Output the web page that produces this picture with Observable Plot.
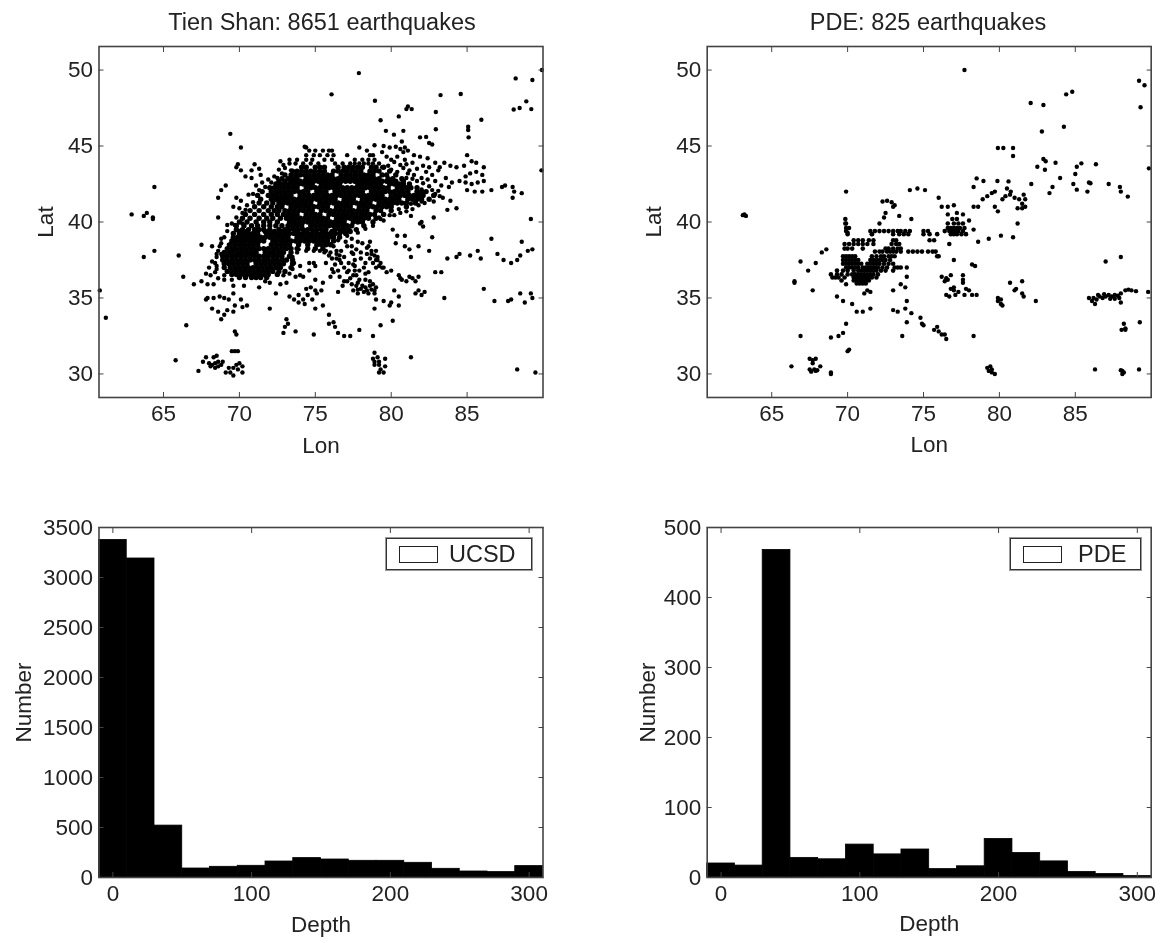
<!DOCTYPE html>
<html>
<head>
<meta charset="utf-8">
<script src="https://cdn.jsdelivr.net/npm/d3@7"></script>
<script src="https://cdn.jsdelivr.net/npm/@observablehq/plot@0.6"></script>
<style>
html,body{margin:0;padding:0;background:#fff;}
#page{position:relative;width:1161px;height:943px;overflow:hidden;font-family:"Liberation Sans",Arial,sans-serif;color:#222;filter:blur(0.7px);}
.panel{position:absolute;}
.panel svg{overflow:visible;}
.title{position:absolute;font-size:23.5px;text-align:center;white-space:nowrap;}
.legend{position:absolute;border:1px solid #333;outline:1px solid #999;background:#fff;height:32px;box-sizing:border-box;}
.legend i{position:absolute;left:12px;top:7px;width:39px;height:17px;border:1.5px solid #222;box-sizing:border-box;}
.legend span{position:absolute;top:2px;font-size:23.5px;}
</style>
</head>
<body>
<div id="page"></div>
<script>
const lonTicks = [65,70,75,80,85];
const latTicks = [30,35,40,45,50];
const depthTicks = [0,100,200,300];
const ucsdTicks = [0,500,1000,1500,2000,2500,3000,3500];
const pdeTicks = [0,100,200,300,400,500];
const depthBins = [0,20,40,60,80,100,120,140,160,180,200,220,240,260,280,300];
const ucsdCounts = [3376,3190,519,90,107,117,160,194,180,167,167,147,87,60,54,114];
const pdeCounts = [20,17,468,28,26,47,33,40,12,16,55,35,23,8,5,2];

const tienShanCore = [
[43.6,[74.1,74.4,75,75.3,75.6,76.5,76.9,77.2,77.5,77.8,78.1,78.7,79,79.5]],
[43.35,[73.5,73.8,74.1,74.4,74.7,75,75.3,75.6,76.2,76.5,76.8,77.1,77.4,77.7,78,78.6,78.9,79.2,79.9]],
[43.1,[73,73.4,73.7,74,74.3,74.6,74.9,75.2,75.5,75.8,76.1,76.7,77,77.3,77.6,77.9,78.2,78.5,78.8,79.4,79.7,80.3]],
[42.85,[72.8,73.2,73.5,73.8,74.4,74.7,75,75.3,75.6,75.9,76.2,76.5,76.8,77.1,77.4,77.7,78,78.3,78.6,78.9,79.2,79.8,80.1,80.7]],
[42.68,[72.6,73,73.4,73.7,74,74.3,74.6,74.9,75.2,75.5,75.8,76.1,76.4,76.7,77,77.3,77.6,77.9,78.2,78.5,78.8,79.1,79.4,79.7,80,80.3,80.8]],
[42.5,[72.4,72.7,73,73.3,73.6,73.9,74.2,74.5,74.8,75.4,75.7,76,76.3,76.6,77.8,78.1,78.4,78.7,79,79.3,79.9,80.2,80.5,80.8,81.2]],
[42.25,[72,72.3,72.6,72.9,73.2,73.5,73.8,74.4,74.7,75,75.3,75.6,75.9,76.2,76.5,76.8,77.1,77.4,77.7,78,78.3,78.6,78.9,79.2,79.5,79.8,80.4,80.7,81,81.3,81.7]],
[42,[71.5,72.1,72.4,72.7,73,73.3,73.6,73.9,74.2,74.5,75.1,75.4,75.7,76.3,76.6,76.9,77.2,77.5,77.8,78.1,78.7,79,79.3,79.6,79.9,80.2,80.5,80.8,81.1,81.7,82,82.3]],
[41.75,[71.2,71.9,72.2,72.5,72.8,73.1,73.4,74,74.3,74.6,74.9,75.2,75.5,75.8,76.1,76.4,76.7,77,77.3,77.6,77.9,78.2,78.5,78.8,79.1,79.4,80,80.3,80.6,80.9,81.2,81.5,81.8,82.1,82.8]],
[41.5,[71.4,72.1,72.4,72.7,73,73.3,73.6,73.9,74.2,74.5,74.8,75.1,75.4,75.7,76,76.3,76.9,77.2,77.5,78.1,78.4,78.7,79,79.3,79.6,79.9,80.2,80.5,81.1,81.4,81.7,82,82.5]],
[41.25,[71.3,71.8,72.2,72.6,72.9,73.2,73.5,73.8,74.1,74.4,74.7,75.3,75.6,75.9,76.2,76.5,76.8,77.1,77.4,77.7,78,78.3,78.6,79.2,79.5,79.8,80.1,80.4,80.7,81,81.6]],
[41,[71,71.6,72.1,72.5,72.8,73.4,73.7,74,74.3,74.6,74.9,75.2,75.5,75.8,76.4,76.7,77,77.3,77.9,78.2,78.5,78.8,79.1,79.4,79.7,80,81]],
[40.75,[70.7,71.3,71.9,72.3,72.6,73,73.3,73.6,73.9,74.2,74.5,74.8,75.4,75.7,76,76.3,76.6,76.9,77.2,77.5,77.8,78.1,78.4,79,79.3,80]],
[40.5,[70.4,71,71.6,72.1,72.5,72.9,73.2,73.5,73.8,74.4,74.7,75,75.3,75.9,76.2,76.5,76.8,77.1,77.4,77.7,78,78.3,78.6,78.9,79.5]],
[40.25,[70.2,70.7,71.3,71.8,72.2,72.7,73.1,73.4,73.7,74,74.3,74.6,74.9,75.2,75.5,75.8,76.4,76.7,77,77.3,77.6,77.9,78.2,78.5,79]],
[40,[70,70.5,71.1,71.6,72,72.5,73.3,73.6,73.9,74.2,74.5,74.8,75.1,75.4,75.7,76,76.3,76.6,76.9,77.5,77.8,78.1,78.8]],
[39.75,[69.8,70.3,70.8,71.2,71.6,72,72.4,72.8,73.2,73.5,73.8,74.1,74.7,75,75.3,75.6,75.9,76.2,76.5,76.8,77.1,77.4,78.2]],
[39.5,[69.8,70.2,70.6,71,71.3,71.6,72,72.6,73,73.3,73.6,73.9,74.2,74.5,74.8,75.1,75.4,75.7,76.3,76.6,76.9,77.2,77.7]],
[39.37,[70,70.5,71.1,71.7,72.3,72.8,73.2,73.8,74.4,75,75.6,76.1,76.7,77.3]],
[39.25,[69.6,70,70.3,70.6,70.9,71.2,71.8,72.1,72.4,72.7,73,73.3,73.6,73.9,74.2,74.5,74.8,75.1,75.4,75.7,76,76.3,76.6,77]],
[39,[69.6,69.9,70.2,70.5,70.8,71.1,71.4,71.7,72,72.3,72.6,72.9,73.2,73.8,74.1,74.4,74.7,75,75.3,75.6,75.9,76.2,76.6]],
[38.75,[69.5,69.8,70.1,70.4,70.7,71,71.3,71.6,72.2,72.5,72.8,73.1,73.4,73.7,74,74.3,74.6,74.9,75.2,75.5,75.8,76.2]],
[38.5,[69.4,69.7,70,70.3,70.6,70.9,71.2,72.1,72.4,72.7,73,73.3,73.9,74.5,75.1,75.4,75.7,76]],
[38.25,[69.2,69.5,69.8,70.1,70.4,70.7,71,71.3,71.6,71.9,72.2,72.5,72.8,73.1,73.4,73.8,74.5,75,75.5]],
[38,[69,69.3,69.6,69.9,70.2,70.5,70.8,71.1,71.7,72,72.3,72.6,72.9,73.4]],
[37.75,[68.9,69.2,69.5,69.8,70.1,70.4,70.7,71,71.3,71.6,71.9,72.2,72.5,72.8,73.3]],
[37.5,[68.9,69.2,69.5,69.8,70.1,70.4,70.7,71,71.3,71.6,71.9,72.2,72.5,72.8,73.1,73.5]],
[37.25,[69,69.3,69.6,69.9,70.2,70.5,71.1,71.4,71.7,72,72.3,72.6,72.9,73.5]],
[37,[69,69.4,69.7,70,70.3,70.6,70.9,71.2,71.5,71.8,72.1,72.4,72.7,73.4]],
[36.75,[69.2,69.5,69.8,70.1,70.4,70.7,71,71.3,71.6,71.9,72.2,72.6,73]],
[36.55,[69.5,69.8,70.1,70.4,70.7,71,71.3,71.6,71.9,72.5]],
[36.35,[70,70.4,70.8,71.1,71.4,71.8]]
];
const tienShanScatter = [
[74.6,44.7],[75,44.7],[75.5,44.7],[75.9,44.7],[76.1,44.7],[74.4,44.4],[74.9,44.4],[75.3,44.4],[75.8,44.4],[76.2,44.4],[77.1,44.4],[78.6,44.4],
[73.3,44.1],[73.8,44.1],[74.4,44.1],[74.8,44.1],[75.6,44.1],[76.1,44.1],[77.6,44.1],[78.1,44.1],[78.5,44.1],[78.9,44.1],
[73.3,43.85],[73.7,43.85],[74.2,43.85],[74.7,43.85],[75.2,43.85],[76.3,43.85],[76.8,43.85],[77.3,43.85],[77.6,43.85],[77.9,43.85],[78.2,43.85],[78.5,43.85],[78.8,43.85],[79.2,43.85],
[73,43.55],[73.4,43.4],[72.8,43.2],[72.5,42.9],[72.1,42.6],[71.7,42.3],[71.3,42.1],[70.9,41.85],[72.9,43.75],[79.4,43.6],[79.8,43.7],
[72.3,43],[71.9,42.8],[71.5,42.6],[71.1,42.4],[72.6,43.45],[70.9,41.3],[70.5,41.1],[70.2,40.6],[69.8,40.3],[69.5,39.9],[69.2,39.4],[69,39],[68.8,38.6],[68.5,37.9],[68.4,37.3],[68.5,36.9],[69,36.5],[69.5,36.2],[72.9,36.5],[73.5,37.7],[73.9,38.2],[74.4,38.1],[74.9,38.1],[76.5,38.8],[77.1,39.1],[77.8,39.3],[78.3,39.55],[78.8,39.75],[79.3,40.2],[79.9,40.45],[80.5,40.85],[81.3,41.2],[82,41.35],[82.9,41.85],
[88.2,49.45],[89.3,49.35],[89.93,50],[88.9,47.94],[88.07,47.4],[88.46,47.5],[89.23,47.43],[77.87,49.8],[76.07,48.4],[78.93,47.98],
[83.25,48.35],[84.58,48.42],[85.94,46.73],[79.3,46.7],[80.5,46.95],[81,47.43],[81.35,47.43],[81.1,47.6],[82.94,47.24],[82.94,46.1],
[85.07,46.27],[85.07,46.05],[85.1,45.57],[79.65,46],[80.18,45.75],[80.8,46],[81.9,45.57],[82.3,45.6],[82.5,45.2],[82.7,45.1],
[69.4,45.8],[70.1,44.9],[74.3,44.95],[74.4,44.9],[78.9,45.05],[79.5,45],[79.9,44.9],[80.3,44.95],[80.6,44.8],[80.9,44.9],[81.1,44.7],[80.7,45.3],[80.8,44.6],
[85,44.4],[81.5,44.4],[81.9,44.3],[82.4,44.2],[79.4,44.6],[79.7,44.3],[80,44.1],[80.4,44.3],[80.9,44.1],[78.4,44.7],[78.8,44.4],[77.9,44.9],
[82.1,43.7],[82.5,43.6],[82.9,43.9],[83.2,43.6],[83.5,43.9],[83.9,43.7],[84.3,43.6],[84.8,43.7],[85.3,44],[85.6,43.9],[86.1,43.6],[82.3,43.3],[82.7,43.1],[83.1,43.4],
[81.7,43.5],[81.2,43.4],[81.5,43.1],[82,42.9],[82.4,42.8],[82.9,42.7],[83.6,42.9],[84,42.6],[84.5,42.7],[84.9,43],[85.2,43.2],[85.6,43.3],[86,43.1],[86.1,42.7],[85.7,42.6],[85.3,42.5],[84.9,42.6],
[83.3,42.4],[83.8,42.3],[85,42.1],[85.5,42],[86,42],[86.6,42.1],[88,42.3],[87.5,42.4],[87.3,42.3],[88.1,42],[88.6,41.9],[88,41.6],[89.9,43.4],[89.2,40.2],
[80.2,43.95],[80.6,43.75],[81,43.8],[81.4,43.9],[80,43.45],[80.4,43.3],[80.8,43.55],[81.1,43.2],[81.4,42.85],[81,42.9],[81.7,42.7],[82.1,42.55],[82.5,42.35],[82,42.15],[82.7,42.1],[83.1,42.05],[82.2,41.95],[83.2,41.7],[82.8,41.35],[82.2,41.25],[81.8,41.1],[81.4,40.85],[80.6,40.6],[80.2,40.45],[79.5,40.1],
[83.4,41.6],[83.9,41.4],[83.7,40.8],[84.3,40.9],[82.8,40.3],[69.8,41.6],[70.1,41.4],[70.6,41.8],[69.1,42.4],[68.8,42.1],[68.6,41.6],[70.4,43],[70.1,43.4],
[71.3,43.5],[71.4,43.1],[70.8,43.4],[70.8,42.9],[71,43.8],[69.8,43.6],[69.9,43.8],[72.7,44],[68.6,40.3],[69.6,41],[70,40.9],[70.4,40.8],[69.2,39.8],[69.7,39.8],[70.2,39.9],[68.8,38.9],
[68.7,38.4],[69.3,38.5],[69.5,38.1],[67.5,38.5],[64.4,42.3],[62.9,40.5],[63.7,40.4],[63.9,40.6],[64.3,40.3],[64.3,40.2],[66,37.8],[63.7,37.7],[64.4,38.1],[60.8,35.5],[61.2,33.7],
[66.3,36.4],[67,35.9],[67.5,36.1],[67.9,35.9],[68.1,36.5],[68.3,35.9],[68.5,37.1],[69,36.2],[69.6,35.8],[70.3,35.8],[71.3,35.7],[72,36],[72.7,35.9],[73.1,36],[68.2,37.4],[68,37],[68.4,36.7],[68.6,36.3],[67.8,36.6],[68.8,37.9],[68.6,38.1],[68.5,37.7],[68.2,38.4],
[73.3,36.6],[73.7,36.4],[74,36.5],[74.2,36.4],[73.5,36.9],[74,37.1],[73.6,37.3],[75,37.1],[67.9,35],[68.3,35],[68.7,35.1],[69,35],[69.3,34.9],[67.8,34.9],[68.2,34.3],[68.6,34.1],[69.2,34.2],[69,33.9],
[68.8,33.6],[69.6,35.3],[70.1,34.9],[70.2,34.4],[70.5,34.5],[69.7,34.5],[69.6,34.1],[69.7,32.8],[69.8,32.6],[72,34.3],[73.3,35.1],[73.6,34.9],[73.9,35.2],[74.2,34.9],[74.5,35.2],[74.8,34.9],[73.9,34.7],[74.3,34.6],[75,34.3],[75.1,35.3],
[75.5,34.5],[75.9,33.9],[73.1,33.6],[73.2,33.3],[73,33.1],[72.9,32.7],[73.7,32.8],[74.9,32.6],[75.9,33.3],[76.2,33.4],[76.3,33.1],[76.5,32.7],[76.9,32.5],[77.3,32.5],[77.9,32.9],[78.8,32.5],[79.3,33.2],[80.1,33.5],
[66.5,33.2],[65.8,30.9],[74.4,35.6],[74.7,35.7],[75,35.5],[75.4,35.5],[75.5,36],[76,36.4],[76.2,36.7],[76.6,36.4],[76.9,36.1],[76.8,35.8],[76.5,35.4],[77.2,36.8],[77.5,36.5],[77.1,36.1],[76.6,37.5],[76.4,37.9],[76.9,37.7],[77.2,37.3],
[76.7,38.1],[77.1,38.4],[77.4,38],[77.7,38.2],[78,37.6],[77.6,37.1],[77.9,36.8],[78.3,37.3],[77.9,36.2],[78.3,36.6],[78.6,36.1],[77.7,35.8],[78,35.6],[78.3,35.7],[78.6,35.8],[78.9,35.5],[77.8,35.3],[78.2,35.4],[78.5,35.3],[78.9,35.3],[79,35.7],
[76.2,38.4],[76.4,38.1],[76.6,37.8],[76.7,37.3],[76.9,37],[77.1,36.7],[76.3,37.2],[76.1,36.9],[76.5,36.8],[77.4,38.4],[77.5,37.9],[77.6,37.5],[77.5,37.2],[77.6,36.8],[77.7,36.5],[77.8,36],[77.3,36.3],[77.4,35.9],[77.5,35.5],[77.8,35.55],[78.1,35.8],[78.4,35.5],[78.7,35.55],[78.8,35.9],
[78.5,38.4],[78.7,38.1],[78.9,37.8],[79.1,37.5],[79.3,37.3],[79.5,37],[78.1,38.6],[78.4,37.9],[78.6,37.6],[78.8,37.3],[79,37],[78,38],[78.2,37],[78.5,36.7],[78.3,36.2],[76.4,37.6],[75.9,37.8],[76.1,37.6],[75.7,37.3],[77,38.7],[77.4,38.9],[77.8,38.7],
[78.4,38.3],[78.7,37.9],[79,37.5],[79.2,37.1],[79.4,37],[79.7,36.7],[79,38.1],[78.6,38.7],[79.1,37.7],[80,36.8],[80.5,36.5],[80.7,36.2],[81,36.1],[81.4,36.3],[81.6,36.1],[81.8,36.4],[81.2,36.4],[80.6,36.3],[81.8,35.5],[81.6,35.3],[82,35.2],
[80.2,35.5],[82.2,35.4],[81.3,37.7],[83.7,37.6],[85.2,37.8],[85.9,37.6],[86.6,38.9],[87,37.9],[87.4,37.5],[87.9,37.3],[88.3,37.5],[88.6,38.7],[89,38.1],[89.3,38.2],[88.5,37.8],[84.5,37.9],[82.9,36.7],[83.3,36.7],
[80,34.7],[80.5,34.5],[79.5,34.8],[79.9,34.5],[79,34.9],[78.9,34.3],[80.5,35.1],[84.3,37.7],[85.7,38.1],[87.7,34.8],[88.8,34.7],[89.2,35.3],[89.3,35],[79.2,40.3],[80.3,38.6],[80.9,38.4],[81.2,38.2],[81.8,38.4],[81.9,39.9],[82.5,38.1],[82.7,39],
[67.8,31.1],[68.3,31.1],[68.5,31.2],[69.5,31.5],[69.7,31.5],[69.9,31.5],[67.6,30.8],[68,30.7],[68.2,30.6],[68.4,30.7],[68.6,30.8],[68.9,30.8],[68.1,30.5],[68.4,30.4],[68.6,30.5],[68.8,30.6],[67.3,30.2],[69.1,30.1],[69.4,30.1],[69.6,30.4],[69.8,30.6],[70,30.7],[70.2,30.5],[69.3,30.4],[69.9,30.3],[70.2,30.1],[69.6,29.9],
[78.9,31.4],[79.1,31.1],[78.8,31],[79.2,30.8],[78.9,30.6],[79.2,30.6],[79.3,30.3],[79.5,30.1],[79.2,30.1],[79.6,30.5],[78.9,30.8],[79.6,31],[81.3,31.1],[83.5,35],[88.3,30.3],[89.5,30.1],[86.8,34.8],[87.9,34.9],[88.5,35.3],[86.1,35.6],
[74.9,37.3],[75.7,38.1],[75.3,38.1],[75.6,38],[76,38],[73.8,38],[74.6,37.3],[72.4,35.3],[71.7,36.1],[74.6,36.8],[75,36.2],[81,40.7],[81.3,40.4],[82,40],[82.1,39.7],[80.9,39.1],[80.4,39.1],[80.1,39.5]
];
const pdeCore = [
[40.2,[69.85,76.9,77.2]],
[39.9,[69.85,76.6,77,77.3,77.6]],
[39.6,[69.9,76.6,76.8,77,77.2,77.4,77.7]],
[39.4,[69.9,71.5,71.8,72.1,72.4,72.7,73,73.3,73.5,73.8,74.1,75,75.3,76.4,76.7,76.9,77.1,77.3,77.6]],
[39.2,[70,71.6,73,73.4,73.7,74,75,75.4,75.9,76.8,77,77.2,77.5,77.8]],
[38.8,[70.4,70.7,71,71.4,71.7,73,73.2,75.4,75.7]],
[38.55,[69.8,70.1,70.4,70.7,71,71.3,71.7,72.9,73.2,73.4,76.7]],
[38.25,[69.8,70,70.3,71,72.5,72.7,73,73.3,73.5]],
[38.05,[71.8,72.1,72.3,72.6,72.8,73,73.2,73.5,74,74.3,74.6,74.9,75.3,75.6,75.8]],
[37.75,[69.7,69.9,70.1,70.3,70.5,71.6,71.9,72.2,72.4,72.7,72.9,73.1,75.9,76]],
[37.5,[69.7,69.9,70.1,70.3,70.5,70.7,71.5,71.7,71.9,72.1,72.3,72.5,72.8]],
[37.25,[69.7,69.9,70.1,70.3,70.5,70.7,70.9,71.3,71.5,71.7,71.9,72.1,72.4,72.7,73]],
[37,[69.9,70.1,70.3,70.5,70.7,71,71.2,71.4,71.6,71.8,72,72.3,72.6,73.1,73.3,73.5]],
[36.8,[69.3,69.7,70,70.4,70.7,70.9,71.1,71.3,71.5,71.7,71.9,72.2,72.5,73]],
[36.55,[68.9,69.3,69.6,70,70.3,70.5,70.7,70.9,71.1,71.3,71.5,71.7,72]],
[36.35,[69,69.2,69.4,69.8,70.4,70.6,70.8,71,71.2,71.4,71.6,71.9]],
[36.15,[69.6,70.4,70.6,70.8,71,71.2,71.4]],
[35.95,[70.6,70.8,71,71.2]]
];
const pdeScatter = [
[77.7,50],[89.2,49.3],[89.56,49],[89.3,47.55],[84.8,48.57],[84.4,48.4],[82.06,47.83],[82.9,47.7],[82.8,45.96],[84.25,46.27],[79.9,44.87],[80.26,44.87],[80.9,44.87],[80.9,44.34],[89.85,43.53],
[82.9,44.15],[83.05,44],[82.5,43.64],[83,43.44],[83.7,43.9],[84,42.9],[85.1,43.64],[85.4,43.86],[86.36,43.8],[85,43.16],[84.87,42.5],[85.1,42.13],[85.9,42.6],[86,42.55],[85.8,42],[87.2,42.5],[87.94,42.3],[88,42],[88.46,41.67],
[83.5,42.3],[83.3,41.9],[82.1,42.5],[78.5,42.87],[78.95,42.7],[79.87,42.7],[80.6,42.67],[78.3,42.3],[80.5,42.2],[80.75,42],[79.2,41.7],[79.5,41.9],[79.7,42],[78.9,41.5],[80.2,41.5],[80.4,41.7],[80.7,41.8],[81,41.6],[81.3,41.5],[81.6,41.8],[81.7,41.5],
[81.5,41.2],[81.7,41],[81.2,40.9],[81.5,40.9],[79.7,41],[79.9,40.7],[78.3,41],[78.6,41],[69.9,42],[72.3,41.35],[72.6,41.4],[72.9,41.3],[73,41],[73.1,41.1],[72.5,40.6],[74.1,42.1],[74.6,42.2],[75.1,42.1],
[76,41.6],[76.2,41],[76.6,41],[77,41.1],[76.6,40.5],[77.2,40.6],[77.6,40.5],[78,40.1],[78.3,39.5],[80.1,39.1],[81.2,39.9],[80.9,39],[78.6,38.7],[70.0,39.3],[69.9,39.9],[70.1,39.6],[72.1,39.9],[71.6,39.2],[73.4,40.4],[74.2,40.2],[72.4,40.3],
[76.2,36.4],[77,37.5],[78.2,37.2],[78.4,37.1],[76.5,36.3],[76.8,36.5],[77.6,36.5],[77.6,36],[77.6,36.2],[76.4,36.1],[76.6,36.2],[76.8,35.6],[77,35.5],[77.1,35.2],[77,35.7],[77.3,35.4],[77.7,35.2],[77.8,35.6],[78,35.5],[78.2,35.2],[78.5,35.2],[76.7,35.1],[76.5,35.2],
[79.3,38.9],[79.9,34.8],[80.1,34.6],[80.1,34.9],[79.9,35],[80.2,34.5],[80.7,36],[81,35.5],[81.1,35.6],[81.5,36.1],[81.5,35.3],[81.6,35.1],[82.4,34.8],
[66.5,36],[67.7,35.5],[66.9,37.4],[67.4,36.8],[67.9,37.3],[68.3,38],[68.6,38.2],[69.3,35.1],[69.7,34.8],[69.9,35.9],[70.3,34.6],[70.6,34.1],[71,34.1],[71.5,34.3],[71.1,35.3],[71.3,35.5],[71.5,35.4],
[73,34.2],[73.3,34.1],[73,35.5],[73.5,35.9],[73.9,36.4],[73.9,37],[73.8,35.7],[73.9,34.8],[73.9,33.4],[73.6,32.5],[74.2,34],[74.8,33.7],[75,33.2],[74.9,33.3],[75.9,33.1],[75.7,32.9],[76,32.8],[76.2,32.6],[76.4,32.6],[76.5,32.3],
[78.3,32.5],[73.8,34.3],[69.9,33.3],[69.7,32.7],[69.4,32.5],[68.9,32.4],[70.1,31.6],[70,31.5],[66.9,32.5],[68.9,30],[68.9,30.1],[66.3,30.5],[67.5,31],[67.7,30.9],[67.9,31],[67.7,30.7],[67.9,30.2],[67.8,30.3],[68,30.25],[67.5,30.3],[67.6,30.15],[68.2,30.5],
[79.4,30.5],[79.2,30.4],[79.5,30.3],[79.3,30.2],[79.5,30.1],[79.7,30],[86.3,30.3],[88.1,30.2],[88,30.25],[88.2,30.1],[88.1,30],[89.2,30.3],
[63.2,40.5],[63.3,40.4],[63.1,40.45],[66.5,36.1],[88.2,33.3],[88.3,33],[88.05,32.9],[88.3,32.9],[89.25,33.4],[88.0,34.7],[87,37.4],[88,37.7],[89.8,35.4],[86.1,34.8],[86.3,34.6],
[85.9,35],[86.2,35],[86.4,34.9],[86.6,35.1],[86.8,35],[87,35.1],[87.2,35.2],[87.4,35.1],[87.6,35.2],[87.8,35.15],[88,35.3],[88.3,35.5],[88.5,35.55],[88.7,35.5],[89,35.45],[86.5,35.2],[86.9,35.25],[87.3,34.95],[87.6,34.95],[87.9,35]
];

const expandRows = rows => rows.flatMap(([lat, lons]) => lons.map(lon => ({lon, lat})));
const pairs = list => list.map(([lon, lat]) => ({lon, lat}));

const page = document.getElementById("page");
const fontStyle = {fontFamily:"'Liberation Sans',Arial,sans-serif", fontSize:"22.5px", color:"#222", background:"transparent", overflow:"visible"};

function addPanel(plot, left, top) {
  plot.classList.add("panel");
  plot.style.left = left + "px";
  plot.style.top = top + "px";
  page.appendChild(plot);
}
function boxAxes(xTicks, yTicks, xLabel, yLabel, yLabelOffset, xLabelOffset, xPad) {
  return [
    Plot.frame({stroke:"#444", strokeWidth:1.6}),
    Plot.axisX({anchor:"bottom", ticks:xTicks, tickFormat:"d", tickSize:-5, tickPadding:xPad, label:xLabel, labelAnchor:"center", labelArrow:"none", labelOffset:xLabelOffset, stroke:"#444"}),
    Plot.axisX({anchor:"top", ticks:xTicks, tickSize:-5, text:null, label:null, stroke:"#444"}),
    Plot.axisY({anchor:"left", ticks:yTicks, tickFormat:"d", tickSize:-5, tickPadding:11, label:yLabel, labelAnchor:"center", labelArrow:"none", labelOffset:yLabelOffset, stroke:"#444"}),
    Plot.axisY({anchor:"right", ticks:yTicks, tickSize:-5, text:null, label:null, stroke:"#444"})
  ];
}
function mapPanel(core, scatter, coreR, marginLeft, left) {
  addPanel(Plot.plot({
    width: marginLeft + 444 + 11, height: 410,
    marginLeft, marginRight: 11, marginTop: 46, marginBottom: 13,
    style: fontStyle,
    x:{domain:[60.75,90]}, y:{domain:[28.45,51.55]},
    marks:[
      Plot.dot(expandRows(core), {x:"lon", y:"lat", r:coreR, fill:"#000", stroke:"none"}),
      Plot.dot(pairs(scatter), {x:"lon", y:"lat", r:2.2, fill:"#000", stroke:"none"}),
      ...boxAxes(lonTicks, latTicks, "Lon", "Lat", 62, 55, 13)
    ]
  }), left, 0);
}
function histPanel(counts, yMax, yTicks, marginLeft, left, labelOffset) {
  const rows = depthBins.map((d,i) => ({d, n:counts[i]}));
  addPanel(Plot.plot({
    width: marginLeft + 444 + 11, height: 415,
    marginLeft, marginRight: 11, marginTop: 17, marginBottom: 48,
    style: fontStyle,
    x:{domain:[-10,310]}, y:{domain:[0,yMax]},
    marks:[
      Plot.rectY(rows, {x1:r=>r.d-10, x2:r=>r.d+10, y1:0, y2:"n", fill:"#000", stroke:"#000", strokeWidth:0.8}),
      ...boxAxes(depthTicks, yTicks, "Depth", "Number", labelOffset, 54, 13)
    ]
  }), left, 510);
}
mapPanel(tienShanCore, tienShanScatter, 2.7, 98.5, 0);
mapPanel(pdeCore, pdeScatter, 2.3, 96.7, 610);
histPanel(ucsdCounts, 3500, ucsdTicks, 98.5, 0, 84);
histPanel(pdeCounts, 500, pdeTicks, 96.7, 610, 68);

function addTitle(text, center) {
  const t = document.createElement("div");
  t.className = "title";
  t.textContent = text;
  t.style.left = (center - 300) + "px";
  t.style.width = "600px";
  t.style.top = "9px";
  page.appendChild(t);
}
addTitle("Tien Shan: 8651 earthquakes", 322);
addTitle("PDE: 825 earthquakes", 928);

function addLegend(text, left, width, textLeft) {
  const l = document.createElement("div");
  l.className = "legend";
  l.style.left = left + "px";
  l.style.top = "538px";
  l.style.width = width + "px";
  l.innerHTML = `<i></i><span style="left:${textLeft}px">${text}</span>`;
  page.appendChild(l);
}
addLegend("UCSD", 386, 146, 62);
addLegend("PDE", 1010, 131, 67);
</script>
</body>
</html>
